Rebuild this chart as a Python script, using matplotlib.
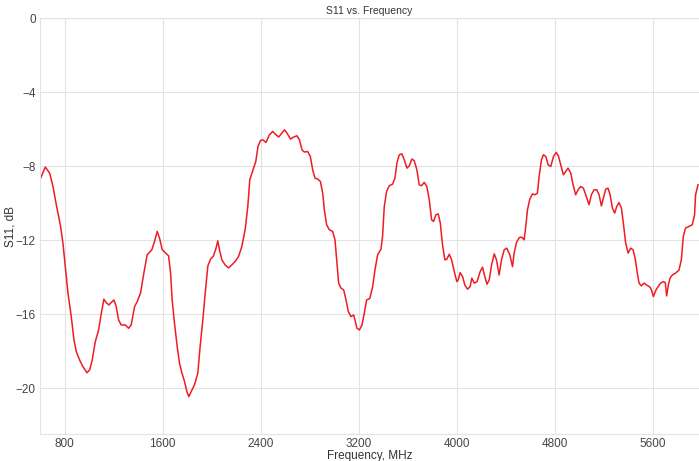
import matplotlib
matplotlib.use("Agg")
import matplotlib.pyplot as plt

freq_mhz = [602, 643, 679, 706, 733, 768, 787, 806, 828, 855, 877, 896, 923, 950, 983, 1005,
            1026, 1051, 1078, 1100, 1121, 1140, 1162, 1181, 1203, 1222, 1241, 1262, 1295, 1323,
            1344, 1371, 1393, 1420, 1447, 1474, 1512, 1534, 1556, 1575, 1597, 1621, 1649, 1665,
            1678, 1697, 1719, 1738, 1757, 1779, 1798, 1814, 1833, 1860, 1887, 1906, 1928, 1950,
            1969, 1991, 2015, 2036, 2050, 2064, 2083, 2110, 2137, 2164, 2191, 2219, 2246, 2273,
            2295, 2311, 2338, 2360, 2378, 2398, 2417, 2444, 2471, 2498, 2525, 2547, 2572, 2594,
            2615, 2643, 2669, 2696, 2716, 2737, 2756, 2783, 2805, 2824, 2843, 2865, 2887, 2906,
            2919, 2938, 2960, 2987, 3006, 3020, 3036, 3055, 3077, 3096, 3115, 3136, 3158, 3169,
            3185, 3205, 3226, 3245, 3264, 3290, 3313, 3332, 3354, 3381, 3394, 3408, 3427, 3449,
            3476, 3495, 3511, 3530, 3552, 3571, 3593, 3612, 3633, 3652, 3674, 3693, 3712, 3734,
            3755, 3775, 3794, 3810, 3829, 3848, 3865, 3883, 3902, 3918, 3938, 3957, 3979, 4000,
            4011, 4027, 4047, 4065, 4087, 4108, 4122, 4141, 4165, 4190, 4209, 4228, 4246, 4264,
            4283, 4305, 4323, 4345, 4364, 4386, 4407, 4432, 4454, 4467, 4486, 4509, 4530, 4549,
            4562, 4576, 4595, 4617, 4636, 4657, 4671, 4690, 4706, 4725, 4744, 4766, 4788, 4810,
            4828, 4847, 4869, 4888, 4907, 4929, 4948, 4969, 4989, 5010, 5032, 5051, 5078, 5097,
            5119, 5141, 5160, 5179, 5195, 5214, 5233, 5250, 5269, 5287, 5304, 5323, 5342, 5358,
            5377, 5397, 5418, 5437, 5454, 5472, 5486, 5505, 5527, 5548, 5576, 5589, 5603, 5622,
            5641, 5662, 5684, 5700, 5711, 5725, 5739, 5758, 5784, 5812, 5831, 5847, 5865, 5893,
            5920, 5939, 5947, 5967]
s11_db = [-8.70, -8.05, -8.38, -9.10, -10.09, -11.26, -12.16, -13.43, -14.86, -16.13, -17.39,
          -18.02, -18.47, -18.83, -19.16, -19.01, -18.47, -17.48, -16.85, -15.95, -15.19, -15.37,
          -15.50, -15.37, -15.23, -15.59, -16.31, -16.58, -16.58, -16.76, -16.58, -15.59, -15.32,
          -14.86, -13.78, -12.79, -12.52, -12.07, -11.53, -11.89, -12.52, -12.67, -12.85, -13.78,
          -15.23, -16.49, -17.75, -18.65, -19.16, -19.64, -20.18, -20.45, -20.18, -19.82, -19.19,
          -17.75, -16.31, -14.69, -13.39, -13.03, -12.85, -12.43, -12.04, -12.52, -13.06, -13.34,
          -13.50, -13.34, -13.16, -12.89, -12.35, -11.44, -10.18, -8.74, -8.20, -7.75, -6.94,
          -6.62, -6.58, -6.72, -6.31, -6.13, -6.31, -6.43, -6.22, -6.04, -6.22, -6.54, -6.43,
          -6.36, -6.58, -7.12, -7.24, -7.21, -7.48, -8.20, -8.65, -8.70, -8.83, -9.46, -10.36,
          -11.17, -11.44, -11.53, -11.98, -13.06, -14.32, -14.59, -14.69, -15.23, -15.86, -16.13,
          -16.04, -16.31, -16.76, -16.85, -16.58, -15.95, -15.23, -15.15, -14.51, -13.61, -12.79,
          -12.49, -11.80, -10.18, -9.37, -9.06, -8.97, -8.65, -7.84, -7.39, -7.34, -7.66, -8.11,
          -7.98, -7.62, -7.70, -8.20, -9.01, -9.06, -8.88, -9.10, -9.82, -10.90, -10.99, -10.63,
          -10.58, -11.08, -12.25, -13.06, -13.03, -12.76, -13.06, -13.70, -14.24, -14.15, -13.75,
          -13.97, -14.42, -14.65, -14.51, -14.05, -14.32, -14.24, -13.70, -13.46, -13.97, -14.38,
          -14.15, -13.34, -12.74, -13.06, -13.88, -13.06, -12.52, -12.43, -12.79, -13.43, -12.70,
          -12.13, -11.86, -11.84, -11.98, -11.26, -10.36, -9.78, -9.50, -9.55, -9.46, -8.56,
          -7.66, -7.39, -7.48, -7.93, -8.02, -7.48, -7.26, -7.44, -7.93, -8.47, -8.29, -8.11,
          -8.38, -9.01, -9.55, -9.28, -9.10, -9.19, -9.55, -10.09, -9.55, -9.28, -9.28, -9.55,
          -10.15, -9.73, -9.24, -9.19, -9.55, -10.27, -10.54, -10.18, -9.97, -10.27, -11.08,
          -12.16, -12.70, -12.43, -12.52, -12.97, -13.78, -14.32, -14.47, -14.32, -14.42, -14.54,
          -14.72, -15.05, -14.72, -14.51, -14.32, -14.24, -14.29, -15.01, -14.42, -14.05, -13.88,
          -13.78, -13.61, -13.06, -11.80, -11.35, -11.26, -11.17, -10.63, -9.55, -9.01]

x_ticks = [800, 1600, 2400, 3200, 4000, 4800, 5600]
y_ticks = [0, -4, -8, -12, -16, -20]

plt.rcParams['font.family'] = ['Liberation Sans', 'DejaVu Sans']

fig = plt.figure(figsize=(6.99, 4.61), dpi=100)
ax = fig.add_axes([40 / 699, 27 / 461, 659 / 699, 416 / 461])

ax.plot(freq_mhz, s11_db, color='#ee1c25', linewidth=1.1)

ax.set_xlim(600, 5975)
ax.set_ylim(-22.47, 0)
ax.set_xticks(x_ticks)
ax.set_yticks(y_ticks)
ax.set_yticklabels(['0', '\u22124', '\u22128', '\u221212', '\u221216', '\u221220'])
ax.grid(True, color='#e3e3e3', linewidth=0.8)
ax.set_axisbelow(True)
ax.tick_params(length=0, labelsize=8.5, colors='#444444', pad=3)
for side in ['left', 'bottom', 'top']:
    ax.spines[side].set_color('#e3e3e3')
    ax.spines[side].set_linewidth(0.8)
ax.spines['right'].set_visible(False)

ax.set_title('S11 vs. Frequency', fontsize=7.5, color='#333333', pad=3)
ax.set_xlabel('Frequency, MHz', fontsize=8.5, color='#333333')
ax.set_ylabel('S11, dB', fontsize=8.5, color='#333333')
ax.yaxis.set_label_coords(-0.036, 0.5)
ax.xaxis.set_label_coords(0.5, -0.038)

fig.savefig('out.png', dpi=100)
